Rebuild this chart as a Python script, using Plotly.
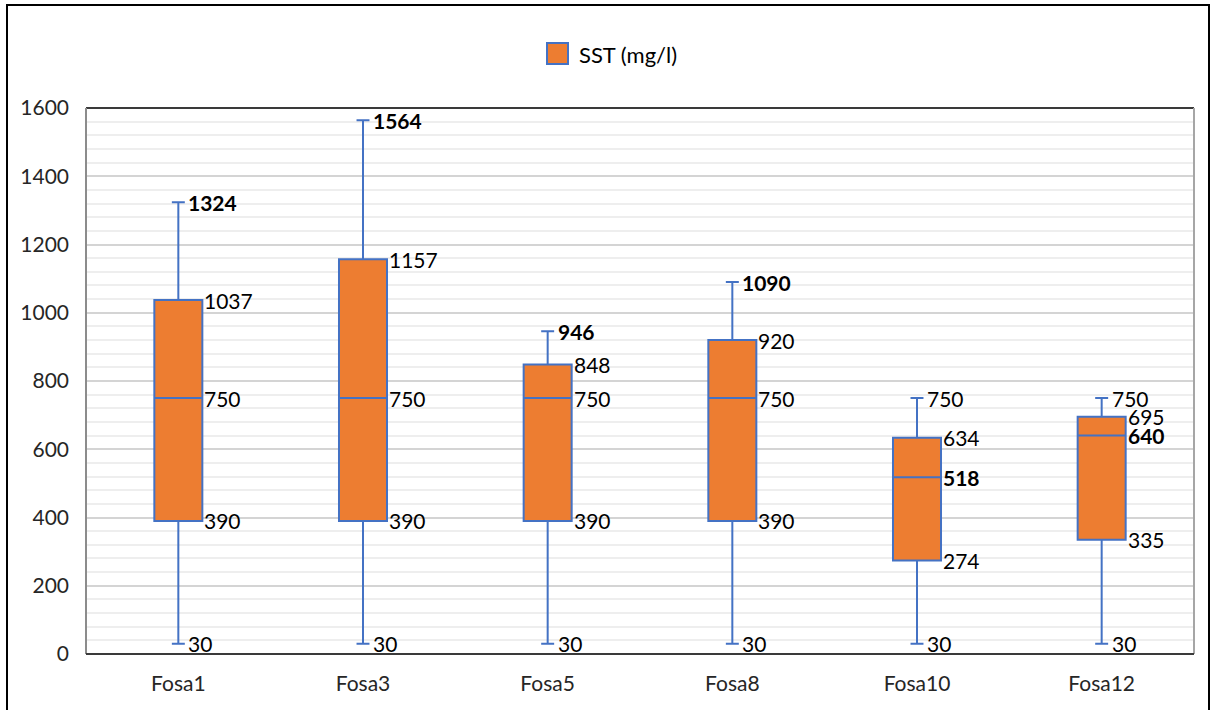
import plotly.graph_objects as go

# SST (mg/l) summary per pit
categories = ["Fosa1", "Fosa3", "Fosa5", "Fosa8", "Fosa10", "Fosa12"]
minimum = [30, 30, 30, 30, 30, 30]
q1 = [390, 390, 390, 390, 274, 335]
median = [750, 750, 750, 750, 518, 640]
q3 = [1037, 1157, 848, 920, 634, 695]
maximum = [1324, 1564, 946, 1090, 750, 750]
# which statistic is printed in bold for each pit
emphasis = ["max", "max", "max", "max", "median", "median"]
series_name = "SST (mg/l)"

FONT = "Lato"
ORANGE = "#ED7D31"
BLUE = "#4472C4"
BOX_WIDTH = 0.26

W, H = 1215, 710
ML, MR, MT, MB = 86, 21, 108, 56
PW, PH = W - ML - MR, H - MT - MB


def px_x(x):
    return (x - ML) / PW


def px_y(y):
    return (H - MB - y) / PH


fig = go.Figure()
fig.add_trace(go.Box(
    x=categories,
    q1=q1, median=median, q3=q3,
    lowerfence=minimum, upperfence=maximum,
    name=series_name,
    fillcolor=ORANGE,
    line=dict(color=BLUE, width=2),
    width=BOX_WIDTH,
    whiskerwidth=0.27,
    boxpoints=False,
    hoverinfo="skip",
    showlegend=False,
))

# value labels beside each box / whisker end
annotations = []
for i, cat in enumerate(categories):
    stats = [("min", minimum[i], 9), ("q1", q1[i], 25), ("median", median[i], 25),
             ("q3", q3[i], 25), ("max", maximum[i], 9)]
    for key, val, shift in stats:
        txt = str(val)
        if emphasis[i] == key:
            txt = "<b>" + txt + "</b>"
        annotations.append(dict(
            x=cat, y=val, xref="x", yref="y", text=txt, showarrow=False,
            xanchor="left", yanchor="middle", xshift=shift, borderpad=0,
            font=dict(family=FONT, size=21, color="#000000"),
        ))

# legend entry: swatch + name
annotations.append(dict(
    x=px_x(577), y=px_y(55), xref="paper", yref="paper", text=series_name,
    showarrow=False, xanchor="left", yanchor="middle",
    font=dict(family=FONT, size=22, color="#000000"),
))

fig.update_layout(
    width=W, height=H,
    margin=dict(l=ML, r=MR, t=MT, b=MB),
    paper_bgcolor="white", plot_bgcolor="white",
    font=dict(family=FONT, size=21, color="#262626"),
    annotations=annotations,
    showlegend=False,
    xaxis=dict(
        type="category", range=[-0.5, 5.5],
        showgrid=False, showline=False, zeroline=False,
        ticks="", ticklabelstandoff=15,
        tickfont=dict(family=FONT, size=21, color="#262626"),
    ),
    yaxis=dict(
        range=[0, 1600], dtick=200, tick0=0,
        showgrid=True, gridcolor="#D4D4D4", gridwidth=2,
        minor=dict(dtick=40, showgrid=True, gridcolor="#EEEEEE", gridwidth=2),
        zeroline=False, showline=False, ticks="", ticklabelstandoff=16,
        tickfont=dict(family=FONT, size=21, color="#262626"),
    ),
    shapes=[
        # plot area frame
        dict(type="line", xref="paper", yref="paper", x0=0, x1=1, y0=1, y1=1,
             line=dict(color="#3A3A3A", width=2), layer="above"),
        dict(type="line", xref="paper", yref="paper", x0=0, x1=0, y0=0, y1=1,
             line=dict(color="#8C8C8C", width=2), layer="above"),
        dict(type="line", xref="paper", yref="paper", x0=1, x1=1, y0=0, y1=1,
             line=dict(color="#A6A6A6", width=2), layer="above"),
        dict(type="line", xref="paper", yref="paper", x0=0, x1=1, y0=0, y1=0,
             line=dict(color="#3A3A3A", width=2), layer="above"),
        # legend swatch
        dict(type="rect", xref="paper", yref="paper",
             x0=px_x(547), x1=px_x(568), y0=px_y(64), y1=px_y(43),
             line=dict(color=BLUE, width=2), fillcolor=ORANGE),
        # outer chart border
        dict(type="rect", xref="paper", yref="paper",
             x0=px_x(7), x1=px_x(1209), y0=px_y(740), y1=px_y(5),
             line=dict(color="#000000", width=2), fillcolor="rgba(0,0,0,0)",
             layer="above"),
    ],
)

fig.write_html("out.html")
